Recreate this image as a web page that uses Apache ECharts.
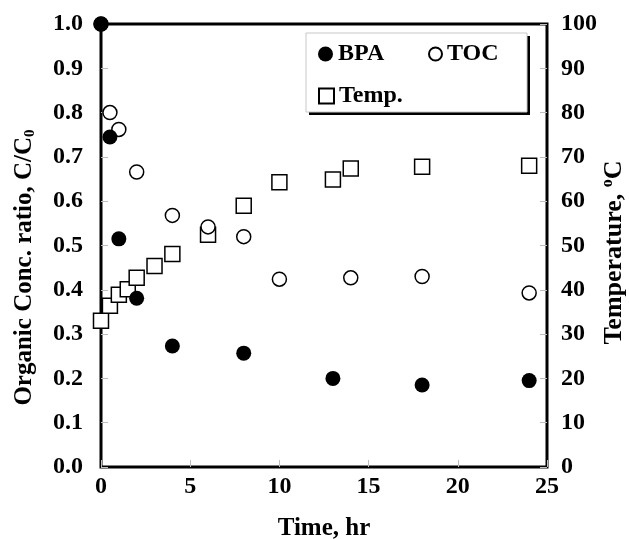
<!DOCTYPE html>
<html><head><meta charset="utf-8">
<script src="https://cdn.jsdelivr.net/npm/echarts@6/dist/echarts.min.js"></script>
<style>html,body{margin:0;padding:0;background:#fff}#c{width:629px;height:539px}</style>
</head><body><div id="c"></div>
<script>
// Data
var bpaTime = [0, 0.5, 1, 2, 4, 8, 13, 18, 24];
var bpaRatio = [1.0, 0.745, 0.515, 0.381, 0.273, 0.257, 0.200, 0.185, 0.195];
var tocTime = [0, 0.5, 1, 2, 4, 6, 8, 10, 14, 18, 24];
var tocRatio = [1.0, 0.800, 0.762, 0.666, 0.568, 0.542, 0.520, 0.424, 0.427, 0.430, 0.393];
var tempTime = [0, 0.5, 1, 1.5, 2, 3, 4, 6, 8, 10, 13, 14, 18, 24];
var tempC = [33.0, 36.4, 38.9, 40.1, 42.7, 45.4, 48.1, 52.4, 59.0, 64.3, 64.9, 67.4, 67.8, 68.0];
var xTicks = [0, 5, 10, 15, 20, 25];
var seriesNames = ['BPA', 'TOC', 'Temp.'];

function zip(a, b) { return a.map(function (v, i) { return [v, b[i]]; }); }

var FONT = 'Liberation Serif';
var lbl = { fontFamily: FONT, fontWeight: 'bold', fontSize: 24, color: '#000' };
var nameLbl = { fontFamily: FONT, fontWeight: 'bold', fontSize: 25, color: '#000' };
var tick = { show: true, inside: true, length: 7, lineStyle: { color: '#bdbdbd', width: 1 } };

var chart = echarts.init(document.getElementById('c'), null, { renderer: 'canvas' });
chart.setOption({
  backgroundColor: '#fff',
  animation: false,
  grid: { left: 101, right: 82, top: 24, bottom: 72, containLabel: false, outerBoundsMode: 'none',
          show: true, borderColor: '#000', borderWidth: 3 },
  xAxis: {
    type: 'value', min: 0, max: 25, interval: 5,
    name: 'Time, hr', nameLocation: 'middle', nameGap: 49, nameMoveOverlap: false,
    nameTextStyle: nameLbl,
    axisLine: { show: false },
    axisTick: tick, splitLine: { show: false },
    axisLabel: Object.assign({ margin: 8 }, lbl)
  },
  yAxis: [{
    type: 'value', min: 0, max: 1, interval: 0.1, position: 'left',
    name: 'Organic Conc. ratio, C/C{sub|0}', nameLocation: 'middle', nameGap: 63, nameRotate: 90, nameMoveOverlap: false,
    nameTextStyle: Object.assign({}, nameLbl, { padding: [0, 44, 0, 0], rich: { sub: { fontFamily: FONT, fontWeight: 'bold', fontSize: 15, padding: [12, 0, 0, 0] } } }),
    axisLine: { show: false },
    axisTick: tick, splitLine: { show: false },
    axisLabel: Object.assign({ margin: 18, formatter: function (v) { return v.toFixed(1); } }, lbl)
  }, {
    type: 'value', min: 0, max: 100, interval: 10, position: 'right',
    name: 'Temperature, {sup|o}C', nameLocation: 'middle', nameGap: 53, nameRotate: 90, nameMoveOverlap: false,
    nameTextStyle: Object.assign({}, nameLbl, { fontSize: 26, padding: [0, 14, 0, 0], rich: { sup: { fontFamily: FONT, fontWeight: 'bold', fontSize: 16, padding: [0, 0, 12, 0] } } }),
    axisLine: { show: false },
    axisTick: tick, splitLine: { show: false },
    axisLabel: Object.assign({ margin: 14 }, lbl)
  }],
  graphic: [
    { type: 'rect', z: 3, shape: { x: 309, y: 36, width: 221, height: 79 }, style: { fill: '#000' } },
    { type: 'rect', z: 3, shape: { x: 306, y: 33, width: 221, height: 79 }, style: { fill: '#fff', stroke: '#c8c8c8', lineWidth: 1 } }
  ],
  legend: [
    { data: [seriesNames[0]], left: 318, top: 42, padding: 0, itemWidth: 15, itemHeight: 15, itemGap: 0, textStyle: lbl, z: 5 },
    { data: [seriesNames[1]], left: 428, top: 42, padding: 0, itemWidth: 13, itemHeight: 13, itemGap: 0, textStyle: lbl, z: 5 },
    { data: [seriesNames[2]], left: 318, top: 84, padding: 0, itemWidth: 15, itemHeight: 15, itemGap: 0, textStyle: lbl, z: 5 }
  ],
  series: [
    { name: seriesNames[2], type: 'scatter', yAxisIndex: 1, data: zip(tempTime, tempC), symbol: 'rect', symbolSize: 15, clip: false,
      itemStyle: { color: '#fff', borderColor: '#000', borderWidth: 1.5, opacity: 1 }, z: 2 },
    { name: seriesNames[1], type: 'scatter', yAxisIndex: 0, data: zip(tocTime, tocRatio), symbol: 'circle', symbolSize: 14, clip: false,
      itemStyle: { color: '#fff', borderColor: '#000', borderWidth: 1.5, opacity: 1 }, z: 3 },
    { name: seriesNames[0], type: 'scatter', yAxisIndex: 0, data: zip(bpaTime, bpaRatio), symbol: 'circle', symbolSize: 15, clip: false,
      itemStyle: { color: '#000', opacity: 1 }, z: 4 }
  ]
});
</script></body></html>
